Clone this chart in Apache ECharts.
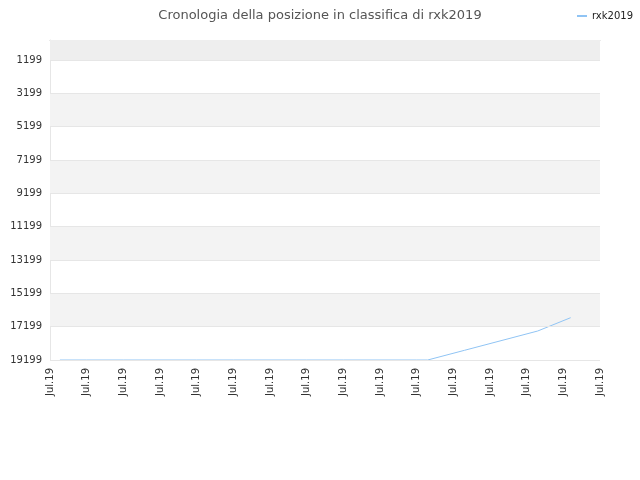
<!DOCTYPE html><html><head><meta charset="utf-8"><script src="https://cdn.jsdelivr.net/npm/echarts@6/dist/echarts.min.js"></script></head><body style="margin:0"><div id="c" style="width:640px;height:480px"></div><script>
const xLabels=["Jul.19","Jul.19","Jul.19","Jul.19","Jul.19","Jul.19","Jul.19","Jul.19","Jul.19","Jul.19","Jul.19","Jul.19","Jul.19","Jul.19","Jul.19","Jul.19"];
const yTicks=[1199,3199,5199,7199,9199,11199,13199,15199,17199,19199];
const xPos=[0.27,1,2,3,4,5,6,7,8,9,10,10.3,11.3,12.3,13.3,14.2];
const ranks=[19199,19199,19199,19199,19199,19199,19199,19199,19199,19199,19199,19199,18620,18040,17460,16660];
const bands=[[-1,1199,'#eeeeee'],[3199,5199,'#f3f3f3'],[7199,9199,'#f3f3f3'],[11199,13199,'#f3f3f3'],[15199,17199,'#f3f3f3']];
const c=echarts.init(document.getElementById('c'));
c.setOption({
title:{text:'Cronologia della posizione in classifica di rxk2019',left:'center',top:4,textStyle:{fontSize:13,fontWeight:'normal',color:'#555',fontFamily:'DejaVu Sans'}},
legend:{right:2,top:6,itemWidth:10,itemHeight:2,icon:'rect',textStyle:{fontSize:10,color:'#222',fontFamily:'DejaVu Sans'},data:['rxk2019']},
grid:{left:50,right:40,top:40,bottom:120},
xAxis:{type:'value',min:0,max:15,interval:1,axisLine:{lineStyle:{color:'#ccc'}},axisTick:{show:false},splitLine:{show:false},
 axisLabel:{rotate:90,fontSize:10,color:'#333',fontFamily:'DejaVu Sans',formatter:v=>xLabels[v]||''}},
yAxis:{type:'value',inverse:true,min:-1,max:19199,
 axisLabel:{customValues:yTicks,fontSize:10,color:'#333',fontFamily:'DejaVu Sans',formatter:v=>String(v)},axisTick:{show:false,customValues:yTicks},
 axisLine:{show:true,lineStyle:{color:'#e6e6e6'}},splitLine:{show:false}},
series:[{name:'rxk2019',type:'line',symbol:'none',lineStyle:{width:1,color:'#90c4f4'},itemStyle:{color:'#90c4f4'},
 data:xPos.map((x,i)=>[x,ranks[i]]),
 markArea:{silent:true,data:bands.map(b=>[{yAxis:b[0],itemStyle:{color:b[2]}},{yAxis:b[1]}])},
 markLine:{silent:true,symbol:'none',label:{show:false},lineStyle:{color:'#e6e6e6',type:'solid',width:1},data:yTicks.map(v=>({yAxis:v}))}}]
});
</script></body></html>
